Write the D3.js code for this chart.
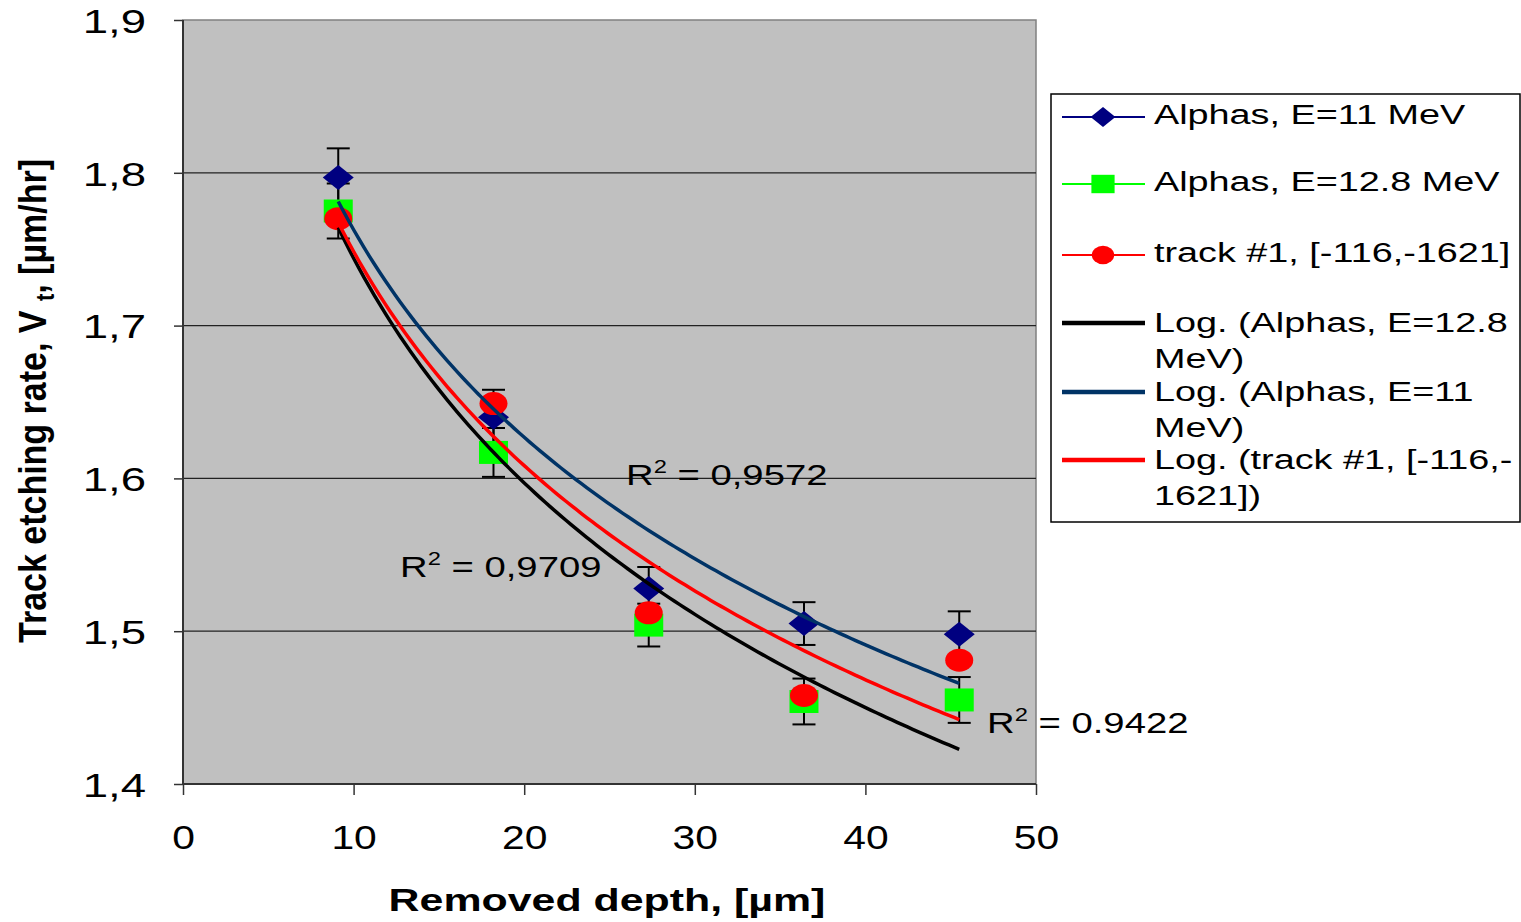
<!DOCTYPE html>
<html lang="en">
<head>
  <meta charset="UTF-8">
  <title>Track etching rate vs removed depth</title>
  <style>
    body { margin: 0; background: #fff; }
    svg { display: block; font-family: "Liberation Sans", Arial, sans-serif; }
  </style>
</head>
<body>
  <div id="chart"></div>

  <script src="https://d3js.org/d3.v7.min.js"></script>
  <script>
    // data
    const depth = [9.1, 18.2, 27.3, 36.4, 45.5];
    const alphas11 = [1.797, 1.640, 1.528, 1.505, 1.498];
    const alphas11Err = [0.019, 0.018, 0.014, 0.014, 0.015];
    const alphas128 = [1.775, 1.617, 1.504, 1.454, 1.455];
    const alphas128Err = [0.018, 0.016, 0.014, 0.015, 0.015];
    const track1 = [1.770, 1.649, 1.512, 1.458, 1.481];

    const xTicks = [0, 10, 20, 30, 40, 50];
    const xTickLabels = ["0", "10", "20", "30", "40", "50"];
    const yTicks = [1.4, 1.5, 1.6, 1.7, 1.8, 1.9];
    const yTickLabels = ["1,4", "1,5", "1,6", "1,7", "1,8", "1,9"];

    const seriesNames = ["Alphas, E=11 MeV", "Alphas, E=12.8 MeV", "track #1, [-116,-1621]"];
    const trendNames = [["Log. (Alphas, E=12.8", "MeV)"], ["Log. (Alphas, E=11", "MeV)"], ["Log. (track #1, [-116,-", "1621])"]];
    const r2Texts = [" = 0,9572", " = 0,9709", " = 0.9422"];

    // layout
    const W = 1521, H = 922;
    const SX = 1.32; // horizontal stretch of text seen in the picture
    const svg = d3.select("#chart").append("svg").attr("width", W).attr("height", H);

    const x = d3.scaleLinear().domain([0, 50]).range([183, 1036]);
    const y = d3.scaleLinear().domain([1.4, 1.9]).range([784, 20]);

    function sText(parent, px, py, size, opts) {
      opts = opts || {};
      return parent.append("text")
        .attr("transform", `translate(${px},${py}) scale(${opts.sx || SX},1)`)
        .attr("font-size", size)
        .attr("font-weight", opts.bold ? "bold" : null)
        .attr("text-anchor", opts.anchor || "start")
        .attr("fill", "#000");
    }

    // plot area
    svg.append("rect")
      .attr("x", x(0)).attr("y", y(1.9))
      .attr("width", x(50) - x(0)).attr("height", y(1.4) - y(1.9))
      .attr("fill", "#c0c0c0").attr("stroke", "#808080").attr("stroke-width", 1.5);

    svg.append("g").selectAll("line")
      .data(yTicks.filter(d => d > 1.4 && d < 1.9))
      .enter().append("line")
      .attr("x1", x(0)).attr("x2", x(50))
      .attr("y1", d => y(d)).attr("y2", d => y(d))
      .attr("stroke", "#222").attr("stroke-width", 1.2);

    // axes
    const yAxis = svg.append("g")
      .attr("transform", `translate(${x(0)},0)`)
      .call(d3.axisLeft(y).tickValues(yTicks).tickSize(9).tickFormat((d, i) => yTickLabels[i]));
    const xAxis = svg.append("g")
      .attr("transform", `translate(0,${y(1.4)})`)
      .call(d3.axisBottom(x).tickValues(xTicks).tickSize(11).tickFormat((d, i) => xTickLabels[i]));

    [yAxis, xAxis].forEach(g => {
      g.select(".domain").remove();
      g.selectAll(".tick line").attr("stroke", "#333").attr("stroke-width", 1.5);
      g.selectAll(".tick text")
        .attr("font-family", "Liberation Sans, Arial, sans-serif")
        .attr("font-size", 34).attr("fill", "#000");
    });
    yAxis.selectAll(".tick text")
      .attr("x", 0).attr("dy", "0.36em")
      .attr("transform", `translate(-37,0) scale(1.34,1)`);
    xAxis.selectAll(".tick text")
      .attr("y", 0).attr("dy", 0)
      .attr("transform", `translate(0,65) scale(1.2,1)`);

    svg.append("line").attr("x1", x(0)).attr("x2", x(0)).attr("y1", y(1.9)).attr("y2", y(1.4))
      .attr("stroke", "#333").attr("stroke-width", 2);
    svg.append("line").attr("x1", x(0)).attr("x2", x(50)).attr("y1", y(1.4)).attr("y2", y(1.4))
      .attr("stroke", "#333").attr("stroke-width", 2);

    // markers
    function drawMarker(g, kind, k) {
      k = k || 1;
      if (kind === "diamond") {
        g.append("path").attr("d", `M0,${-12.5 * k}L${15.5 * k},0L0,${12.5 * k}L${-15.5 * k},0Z`).attr("fill", "#000080");
      } else if (kind === "square") {
        g.append("rect").attr("x", -14.5 * k).attr("y", -11.5 * k).attr("width", 29 * k).attr("height", 23 * k).attr("fill", "#00ff00");
      } else {
        g.append("ellipse").attr("rx", 14 * k).attr("ry", 11.5 * k).attr("fill", "#ff0000");
      }
    }

    const series = [
      { name: seriesNames[0], values: alphas11, err: alphas11Err, kind: "diamond", color: "#000080" },
      { name: seriesNames[1], values: alphas128, err: alphas128Err, kind: "square", color: "#00ff00" },
      { name: seriesNames[2], values: track1, err: null, kind: "circle", color: "#ff0000" }
    ];

    // error bars first
    series.filter(s => s.err).forEach(s => {
      const g = svg.append("g").attr("stroke", "#000").attr("stroke-width", 2);
      s.values.forEach((v, i) => {
        const cx = x(depth[i]), top = y(v + s.err[i]), bot = y(v - s.err[i]);
        g.append("line").attr("x1", cx).attr("x2", cx).attr("y1", top).attr("y2", bot);
        g.append("line").attr("x1", cx - 11.5).attr("x2", cx + 11.5).attr("y1", top).attr("y2", top);
        g.append("line").attr("x1", cx - 11.5).attr("x2", cx + 11.5).attr("y1", bot).attr("y2", bot);
      });
    });

    series.forEach(s => {
      s.values.forEach((v, i) => {
        const g = svg.append("g").attr("transform", `translate(${x(depth[i])},${y(v)})`);
        drawMarker(g, s.kind);
      });
    });

    // logarithmic trend lines, y = a ln(x) + b, fitted to each series
    function logFit(xs, ys) {
      const lx = xs.map(Math.log);
      const mx = d3.mean(lx), my = d3.mean(ys);
      const sxy = d3.sum(lx, (v, i) => (v - mx) * (ys[i] - my));
      const sxx = d3.sum(lx, v => (v - mx) * (v - mx));
      const a = sxy / sxx;
      return { a: a, b: my - a * mx };
    }

    const trends = [
      { fit: logFit(depth, alphas128), color: "#000000" },
      { fit: logFit(depth, alphas11), color: "#003366" },
      { fit: logFit(depth, track1), color: "#ff0000" }
    ];
    const [xMin, xMax] = d3.extent(depth);
    const samples = d3.range(0, 121).map(i => xMin + (xMax - xMin) * i / 120);
    const line = d3.line().x(d => x(d[0])).y(d => y(d[1]));
    trends.forEach(t => {
      svg.append("path")
        .datum(samples.map(v => [v, t.fit.a * Math.log(v) + t.fit.b]))
        .attr("d", line)
        .attr("fill", "none").attr("stroke", t.color).attr("stroke-width", 3.5);
    });

    // R² labels
    const r2Pos = [[626, 485], [400, 577], [987, 733]];
    r2Texts.forEach((txt, i) => {
      const t = sText(svg, r2Pos[i][0], r2Pos[i][1], 29);
      t.append("tspan").text("R");
      t.append("tspan").attr("font-size", 18).attr("dy", -12).text("2");
      t.append("tspan").attr("dy", 12).text(txt);
    });

    // axis titles
    sText(svg, 607, 911, 32, { bold: true, anchor: "middle", sx: 1.34 }).text("Removed depth, [µm]");

    const yt = svg.append("text")
      .attr("transform", "translate(46,401) rotate(-90) scale(1,1.15)")
      .attr("font-size", 34).attr("font-weight", "bold").attr("text-anchor", "middle")
      .attr("letter-spacing", 0);
    yt.append("tspan").text("Track etching rate, V ");
    yt.append("tspan").attr("font-size", 22).attr("dy", 7).text("t");
    yt.append("tspan").attr("dy", -7).text(", [µm/hr]");

    // legend
    const legend = svg.append("g");
    legend.append("rect")
      .attr("x", 1051).attr("y", 94).attr("width", 469).attr("height", 428)
      .attr("fill", "#fff").attr("stroke", "#000").attr("stroke-width", 1.5);

    const legendY = [117, 184, 255, 323, 392, 460];
    const LSX = 1.34;
    series.forEach((s, i) => {
      const ly = legendY[i];
      legend.append("line").attr("x1", 1062).attr("x2", 1145).attr("y1", ly).attr("y2", ly)
        .attr("stroke", s.color).attr("stroke-width", 2);
      drawMarker(legend.append("g").attr("transform", `translate(1103,${ly})`), s.kind, 0.8);
      sText(legend, 1154, ly + 7, 28.2, { sx: LSX }).text(s.name);
    });
    trends.forEach((t, i) => {
      const ly = legendY[i + 3];
      legend.append("line").attr("x1", 1062).attr("x2", 1145).attr("y1", ly).attr("y2", ly)
        .attr("stroke", t.color).attr("stroke-width", 4.5);
      trendNames[i].forEach((ln, j) => {
        sText(legend, 1154, ly + 9 + j * 36, 28.2, { sx: LSX }).text(ln);
      });
    });
  </script>
</body>
</html>
